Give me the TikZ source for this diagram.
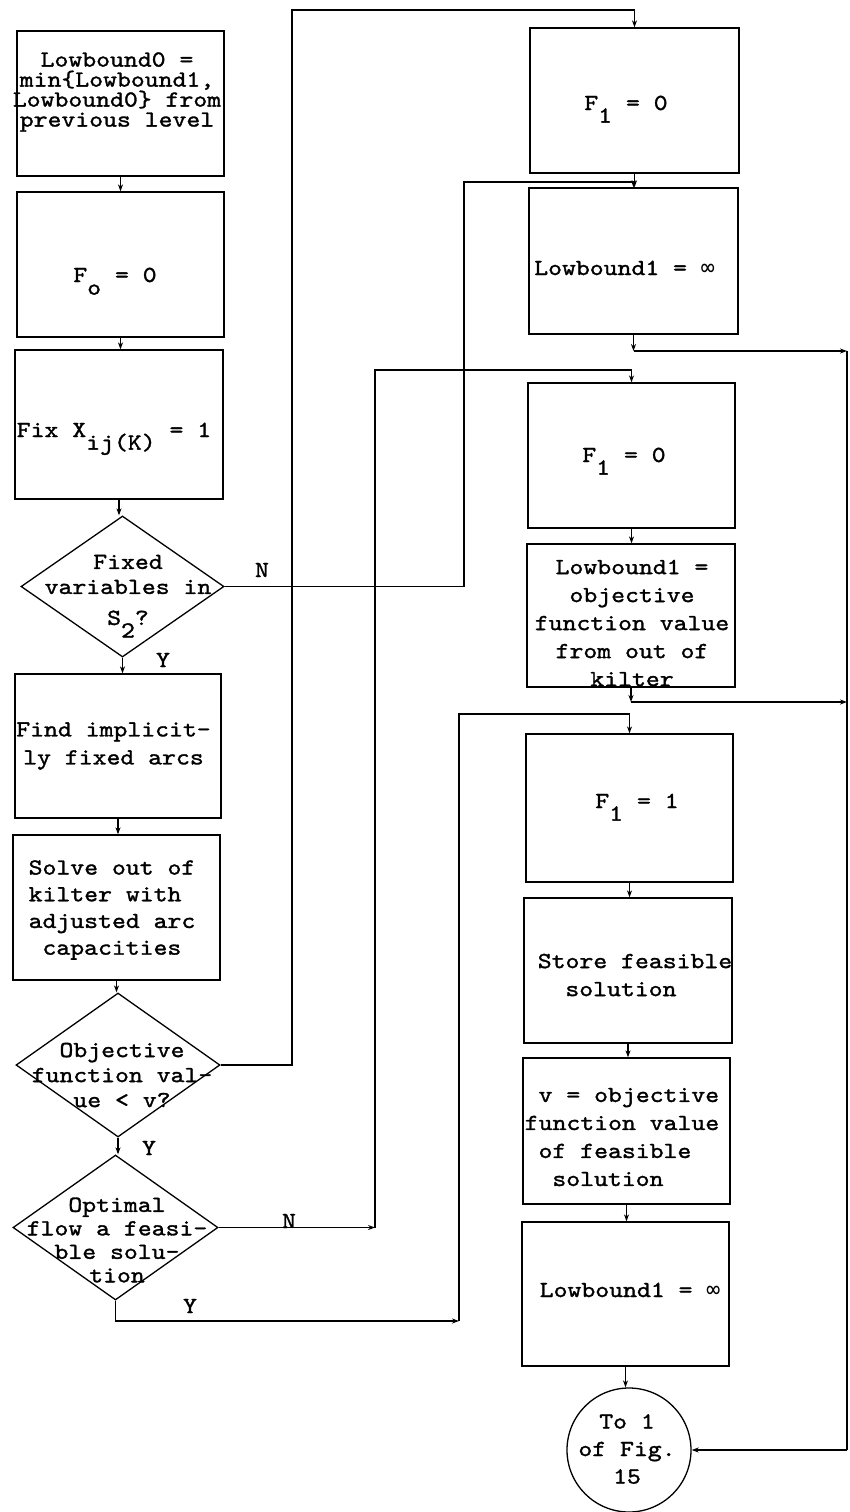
\documentclass[tikz,border=0pt]{standalone}
\usepackage{fontspec}
\setmainfont{lmmono10-regular.otf}[FakeStretch=1.15, FakeBold=1.4]
\newfontfamily\symf{DejaVu Sans Mono}
\usetikzlibrary{shapes.geometric,arrows.meta}
\newcommand\lo[1]{\raisebox{-0.55em}[0pt][0pt]{#1}}
\newcommand\chs{\hspace*{0.6em}}
\newcommand\infsym{{\symf ∞}}
\lineskiplimit=-50pt
\tikzset{
  line/.style={line width=1.3pt},
  arr/.style={line width=1.3pt, -{Stealth[length=7pt,width=5pt]}},
  box/.style={draw, line width=1.3pt, minimum width=207pt, minimum height=145pt, inner sep=0pt},
  dia/.style={draw, diamond, line width=1.3pt, inner sep=0pt},
  txt/.style={font=\fontsize{23}{28}\selectfont, inner sep=0pt, align=center},
  lbl/.style={font=\fontsize{23}{28}\selectfont, inner sep=0pt, anchor=base},
}
\begin{document}
\begin{tikzpicture}[x=1pt,y=-1pt]
\fill[white] (0,0) rectangle (849,1512);
\useasboundingbox (0,0) rectangle (849,1512);
% left column
\node[box] (b1) at (120.5,103.5) {};
\node[box] (b2) at (120.5,264.5) {};
\node[box, minimum width=208pt, minimum height=149pt] (b3) at (119,424.5) {};
\node[dia, minimum width=203pt, minimum height=141pt] (d1) at (122.5,586.5) {};
\node[box, minimum width=206pt, minimum height=144pt] (b4) at (118,746) {};
\node[box] (b5) at (116.5,907.5) {};
\node[dia, minimum width=204pt, minimum height=144pt] (d2) at (118,1065) {};
\node[dia, minimum width=205pt, minimum height=145pt] (d3) at (115.5,1227.5) {};
% right column
\node[box, minimum width=209pt] (r1) at (634.5,100.5) {};
\node[box, minimum width=209pt, minimum height=146pt] (r2) at (633.5,261) {};
\node[box] (r3) at (631.5,455.5) {};
\node[box, minimum width=208pt, minimum height=143pt] (r4) at (631,615.5) {};
\node[box, minimum height=148pt] (r5) at (629.5,808) {};
\node[box, minimum width=208pt] (r6) at (628,970.5) {};
\node[box, minimum height=146pt] (r7) at (626.5,1131) {};
\node[box, minimum height=144pt] (r8) at (625.5,1294) {};
\node[draw, circle, line width=1.3pt, minimum size=124pt, inner sep=0pt] (c) at (629,1450) {};
% texts
\node[txt, font=\fontsize{23}{20}\selectfont] (t1) at (117,92) {Lowbound0 =\\min\{Lowbound1,\\Lowbound0\} from\\previous level};
\node[lbl] (t2) at (115,282) {F\lo{o} = 0};
\node[lbl] (t3) at (114,437) {Fix X\lo{ij(K)} = 1};
\node[txt, font=\fontsize{23}{25}\selectfont] (t4) at (128,590) {Fixed\\variables in\\[6pt]S\lo{2}?};
\node[txt] (t5) at (113.5,746) {Find implicit-\\ly fixed arcs};
\node[txt, align=left, font=\fontsize{23}{26.7}\selectfont] (t6) at (112,910) {Solve out of\\kilter with\\adjusted arc\\\chs capacities};
\node[txt, font=\fontsize{23}{25}\selectfont] (t7) at (122,1075) {Objective\\function val-\\ue < v?};
\node[txt, font=\fontsize{23}{23.5}\selectfont] (t8) at (117,1240) {Optimal\\flow a feasi-\\ble solu-\\tion};
\node[lbl] (t9) at (626,110) {F\lo{1} = 0};
\node[lbl] (t10) at (624.5,275) {Lowbound1 = \infsym};
\node[lbl] (t11) at (624,462) {F\lo{1} = 0};
\node[txt] (t12) at (632,623) {Lowbound1 =\\objective\\function value\\from out of\\kilter};
\node[lbl] (t13) at (637,808) {F\lo{1} = 1};
\node[txt, align=left] (t14) at (635,975) {Store feasible\\\chs\chs solution};
\node[txt, align=left] (t15) at (622,1137) {\chs v = objective\\function value\\\chs of feasible\\\chs\chs solution};
\node[lbl] (t16) at (630,1297) {Lowbound1 = \infsym};
\node[txt, font=\fontsize{23}{27.5}\selectfont] (t17) at (627,1449) {To 1\\of Fig.\\15};
% branch labels
\node[lbl] (n1) at (262,577) {N};
\node[lbl] (y1) at (163,667) {Y};
\node[lbl] (y2) at (149,1155) {Y};
\node[lbl] (n3) at (289,1228) {N};
\node[lbl] (y3) at (190,1313) {Y};
% corner coordinates
\coordinate (k1) at (464,182);
\coordinate (k2) at (292,10);
\coordinate (k3) at (375,1227.5);
\coordinate (k3t) at (375,370);
\coordinate (k4) at (459,1321);
\coordinate (k4t) at (459,714);
\coordinate (e1) at (633.5,351);
\coordinate (e2) at (847,351);
\coordinate (e3) at (631,702);
\coordinate (e4) at (847,702);
\coordinate (e5) at (847,1450);
% vertical flow
\foreach \a/\b in {b1/b2,b2/b3,b3/d1,d1/b4,b4/b5,b5/d2,d2/d3,r1/r2,r3/r4,r5/r6,r6/r7,r7/r8,r8/c}
  \draw[arr] (\a.south) -- (\a.south |- \b.north);
% branches
\draw[arr] (d1.east) -| (k1) -| (r2.north);
\draw[arr] (d2.east) -| (k2) -| (r1.north);
\draw[arr] (d3.east) -- (k3);
\draw[arr] (k3) -- (k3t) -| (r3.north);
\draw[arr] (d3.south) |- (k4);
\draw[arr] (k4) -- (k4t) -| (r5.north);
% exits to the right
\draw[arr] (r2.south) -- (e1);
\draw[arr] (e1) -- (e2);
\draw[arr] (r4.south) -- (e3);
\draw[arr] (e3) -- (e4);
\draw[line] (e2) -- (e5);
\draw[arr] (e5) -- (c.east);
\end{tikzpicture}
\end{document}
